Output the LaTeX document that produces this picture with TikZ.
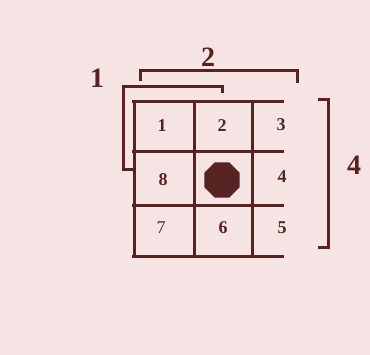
\documentclass[tikz,border=0pt]{standalone}
\usepackage{fontspec}
\setmainfont{Liberation Serif}
\definecolor{paperpink}{RGB}{246,228,228}
\definecolor{gridbrown}{RGB}{86,34,34}
\usetikzlibrary{shapes.geometric}

\begin{document}
\begin{tikzpicture}[x=1pt,y=-1pt,line width=3pt,
    celllabel/.style={text=gridbrown,font=\fontsize{18}{18}\selectfont\bfseries},
    bracelabel/.style={text=gridbrown,font=\fontsize{28}{28}\selectfont\bfseries}]
  \fill[paperpink] (0,0) rectangle (370,355);
  % grid
  \foreach \y in {102,152,206,257}
    \draw[gridbrown,line cap=rect] (133,\y) -- (282,\y);
  \foreach \x in {134,194,252}
    \draw[gridbrown] (\x,102) -- (\x,257);
  % brackets
  \draw[gridbrown] (134,170) -- (123,170) -- (123,87) -- (222,87) -- (222,93);
  \draw[gridbrown] (140,81) -- (140,71) -- (297,71) -- (297,83);
  \draw[gridbrown] (318,100) -- (328,100) -- (328,248) -- (318,248);
  \node[bracelabel] (b1) at (97,78) {1};
  \node[bracelabel] (b2) at (208,57) {2};
  \node[bracelabel] (b4) at (354,165) {4};
  % cells
  \node[celllabel] (c1) at (162,126) {1};
  \node[celllabel] (c2) at (222,126) {2};
  \node[celllabel] (c3) at (281,125) {3};
  \node[celllabel] (c4) at (282,177) {4};
  \node[celllabel] (c5) at (282,228) {5};
  \node[celllabel] (c6) at (223,228) {6};
  \node[celllabel,font=\fontsize{18}{18}\selectfont] (c7) at (161,228) {7};
  \node[celllabel] (c8) at (163,180) {8};
  \node[regular polygon,regular polygon sides=8,fill=gridbrown,
        minimum size=38pt,inner sep=0pt] (stone) at (222,180) {};
\end{tikzpicture}
\end{document}
